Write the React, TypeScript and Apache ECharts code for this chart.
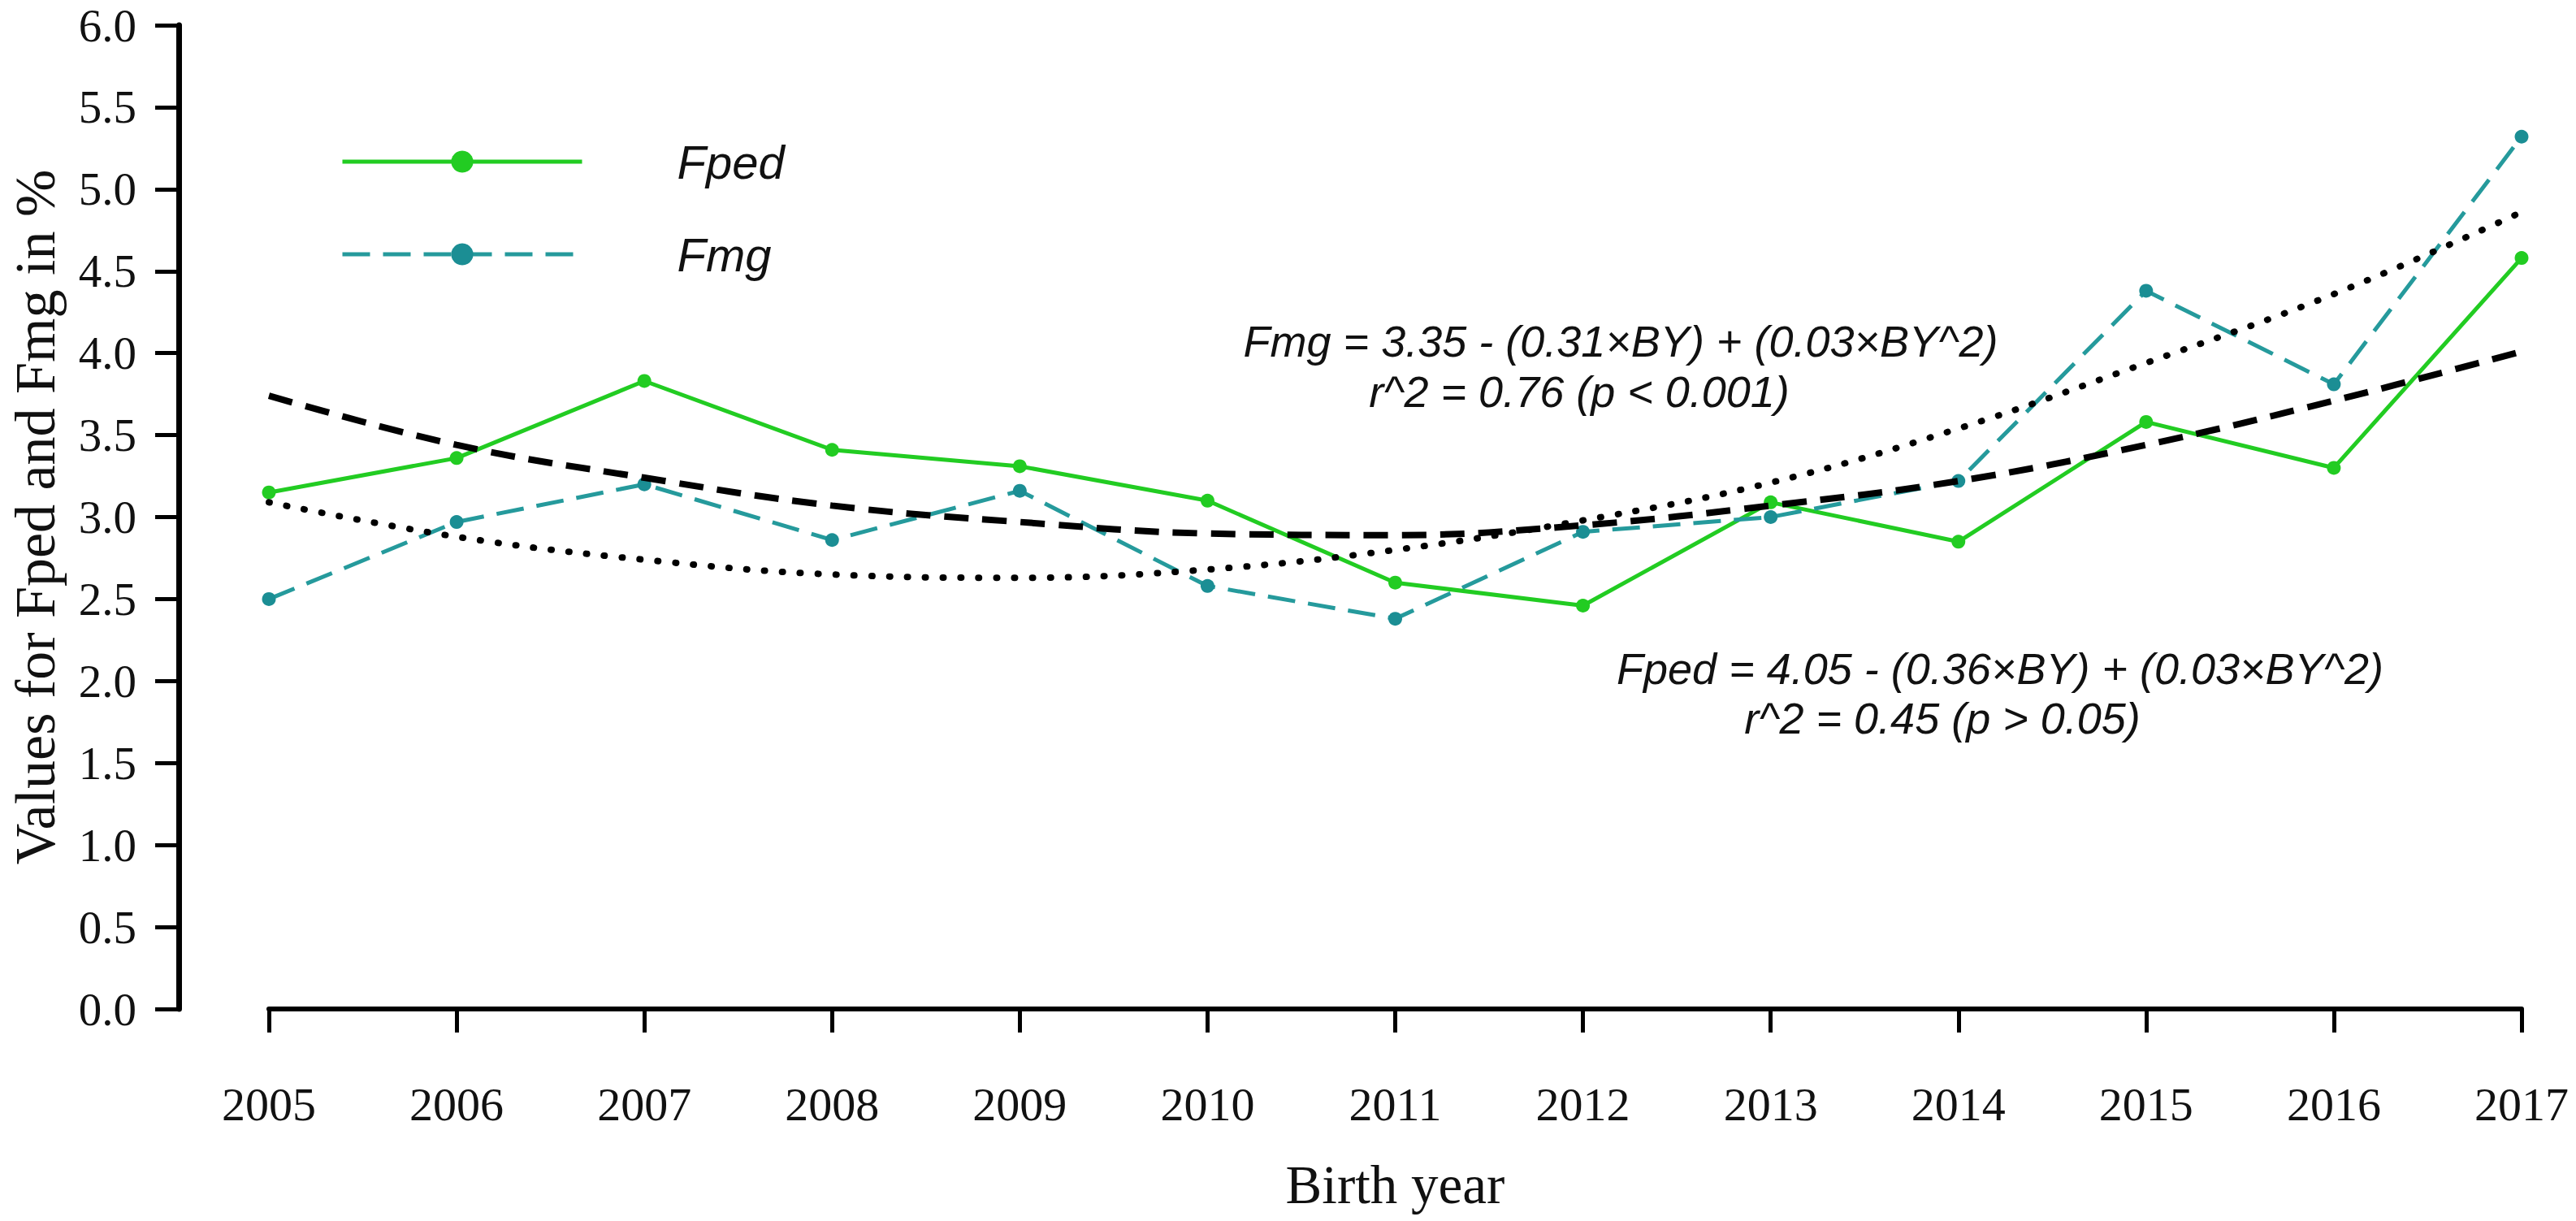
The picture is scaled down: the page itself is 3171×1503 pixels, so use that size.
import React, { useEffect, useRef } from "react";
import * as echarts from "echarts";

const years = ["2005", "2006", "2007", "2008", "2009", "2010", "2011", "2012", "2013", "2014", "2015", "2016", "2017"];
const fped = [3.15, 3.36, 3.83, 3.41, 3.31, 3.1, 2.6, 2.46, 3.09, 2.85, 3.58, 3.3, 4.58];
const fmg = [2.5, 2.97, 3.2, 2.86, 3.16, 2.58, 2.38, 2.91, 3.0, 3.22, 4.38, 3.81, 5.32];
const fpedTrend = [3.74, 3.44, 3.24, 3.07, 2.97, 2.9, 2.89, 2.95, 3.07, 3.22, 3.44, 3.71, 4.01];
const fmgTrend = [3.09, 2.88, 2.74, 2.65, 2.63, 2.68, 2.8, 2.98, 3.21, 3.54, 3.94, 4.36, 4.86];

const fmgEq1 = "Fmg = 3.35 - (0.31×BY) + (0.03×BY^2)";
const fmgEq2 = "r^2 = 0.76 (p < 0.001)";
const fpedEq1 = "Fped = 4.05 - (0.36×BY) + (0.03×BY^2)";
const fpedEq2 = "r^2 = 0.45 (p > 0.05)";

const GREEN = "#22cc22";
const TEAL = "#1b8e94";
const SERIF = "'Liberation Serif', 'Times New Roman', serif";
const SANS = "'Liberation Sans', Arial, sans-serif";

export default function App() {
  const ref = useRef<HTMLDivElement>(null);
  useEffect(() => {
    if (!ref.current) return;
    const chart = echarts.init(ref.current, null, { renderer: "svg" });
    const eqText = (text: string, x: number, y: number) => ({
      type: "text",
      x,
      y,
      style: {
        text,
        fill: "#111",
        font: `italic 54px ${SANS}`,
        align: "center",
        verticalAlign: "middle",
      },
    });
    chart.setOption({
      animation: false,
      backgroundColor: "#ffffff",
      grid: { left: 331, right: 67, top: 31, bottom: 261, containLabel: false },
      legend: {
        data: ["Fped", "Fmg"],
        orient: "vertical",
        left: 414,
        top: 165,
        itemWidth: 295,
        itemHeight: 34,
        itemGap: 56,
        lineStyle: { width: 5 },
        textStyle: {
          fontFamily: SANS,
          fontStyle: "italic",
          fontSize: 58,
          color: "#111",
          lineHeight: 34,
          padding: [0, 0, 0, 112],
        },
      },
      xAxis: {
        type: "category",
        data: years,
        boundaryGap: false,
        offset: 48,
        name: "Birth year",
        nameLocation: "middle",
        nameGap: 134,
        nameTextStyle: { fontFamily: SERIF, fontSize: 67, color: "#111" },
        axisLine: { lineStyle: { color: "#000", width: 6 } },
        axisTick: { length: 29, lineStyle: { color: "#000", width: 5 } },
        axisLabel: { fontFamily: SERIF, fontSize: 58, color: "#111", margin: 40 },
        splitLine: { show: false },
      },
      yAxis: {
        type: "value",
        min: 0,
        max: 6,
        interval: 0.5,
        offset: 111,
        name: "Values for Fped and Fmg in %",
        nameLocation: "middle",
        nameGap: 142,
        nameTextStyle: { fontFamily: SERIF, fontSize: 70, color: "#111" },
        axisLine: { show: true, lineStyle: { color: "#000", width: 7 } },
        axisTick: { show: true, length: 29, lineStyle: { color: "#000", width: 5 } },
        axisLabel: {
          fontFamily: SERIF,
          fontSize: 57,
          color: "#111",
          margin: 52,
          formatter: (v: number) => v.toFixed(1),
        },
        splitLine: { show: false },
      },
      series: [
        {
          name: "Fped",
          type: "line",
          data: fped,
          symbol: "circle",
          symbolSize: 17,
          itemStyle: { color: GREEN },
          lineStyle: { color: GREEN, width: 5 },
          z: 3,
        },
        {
          name: "Fmg",
          type: "line",
          data: fmg,
          symbol: "circle",
          symbolSize: 17,
          itemStyle: { color: TEAL },
          lineStyle: { color: "#259a9c", width: 5, type: [34, 16] },
          z: 3,
        },
        {
          name: "Fped trend",
          type: "line",
          data: fpedTrend,
          smooth: 0.4,
          symbol: "none",
          lineStyle: { color: "#000", width: 8, type: [30, 17] },
          z: 4,
        },
        {
          name: "Fmg trend",
          type: "line",
          data: fmgTrend,
          smooth: 0.4,
          symbol: "none",
          lineStyle: { color: "#000", width: 8, type: [1, 21], cap: "round" },
          z: 4,
        },
      ],
      graphic: [
        eqText(fmgEq1, 1995, 420),
        eqText(fmgEq2, 1944, 482),
        eqText(fpedEq1, 2462, 823),
        eqText(fpedEq2, 2391, 884),
      ],
    });
    return () => chart.dispose();
  }, []);
  return (
    <div
      ref={ref}
      style={{ position: "fixed", left: 0, top: 0, width: 3171, height: 1503, background: "#fff" }}
    />
  );
}
